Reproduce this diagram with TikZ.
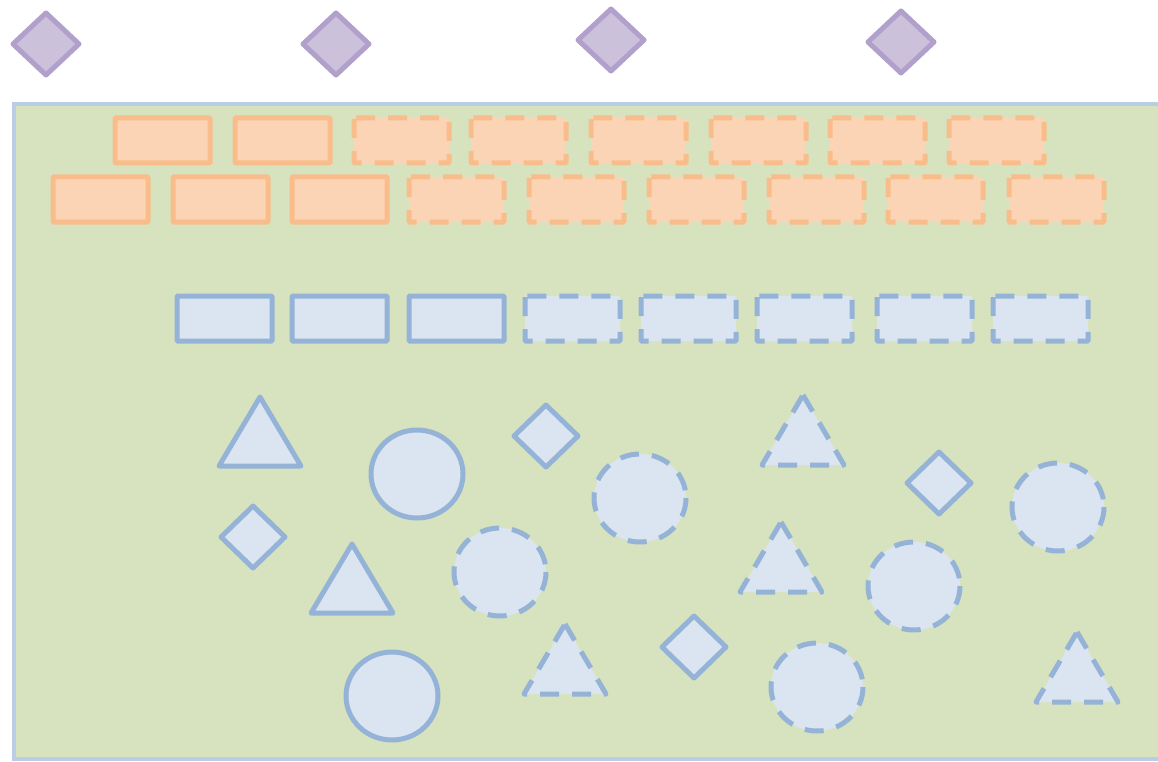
\documentclass[tikz,border=0pt]{standalone}
\definecolor{pfill}{HTML}{CBC1DA}
\definecolor{pline}{HTML}{B1A0CB}
\definecolor{ofill}{HTML}{FBD4B5}
\definecolor{oline}{HTML}{F9BD8B}
\definecolor{bfill}{HTML}{DBE5F1}
\definecolor{bline}{HTML}{95B3D7}
\definecolor{gfill}{HTML}{D7E3BF}
\definecolor{gline}{HTML}{B9CDE5}
\tikzset{
  pdia/.style={fill=pfill,draw=pline,line width=5pt,line join=round},
  obox/.style={fill=ofill,draw=oline,line width=5pt,rounded corners=1pt},
  bbox/.style={fill=bfill,draw=bline,line width=5pt,rounded corners=1pt},
  dsh/.style={dash pattern=on 19pt off 13pt},
}
\begin{document}
\begin{tikzpicture}[x=1pt,y=-1pt]
\useasboundingbox (0,0) rectangle (1158,762);
% purple diamonds
\foreach \cx/\cy in {46/44,336/44,611/40,901/42}{
  \draw[pdia] (\cx-33,\cy) -- (\cx,\cy-31) -- (\cx+33,\cy) -- (\cx,\cy+31) -- cycle;
}
% container
\draw[fill=gfill,draw=gline,line width=4.5pt] (1170,104) -- (14,104) -- (14,759) -- (1170,759);
% orange row 1
\foreach \x in {115,235}{\draw[obox] (\x,118) rectangle ++(95,45);}
\foreach \x in {354,471,591,711,830,949}{\draw[obox,dsh] (\x,118) rectangle ++(95,45);}
% orange row 2
\foreach \x in {53,173,292}{\draw[obox] (\x,177) rectangle ++(95,45);}
\foreach \x in {409,529,649,769,888,1009}{\draw[obox,dsh] (\x,177) rectangle ++(95,45);}
% blue row
\foreach \x in {177,292,409}{\draw[bbox] (\x,296) rectangle ++(95,45);}
\foreach \x in {525,641,757,877,993}{\draw[bbox,dsh] (\x,296) rectangle ++(95,45);}
% solid triangles
\foreach \ax/\ay in {260/397,352/544}{
  \draw[bbox,rounded corners=0pt,line join=round] (\ax,\ay) -- (\ax+41,\ay+69) -- (\ax-41,\ay+69) -- cycle;}
% dashed triangles
\foreach \ax/\ay in {803/395,781/522,565/624,1077/632}{
  \draw[bbox,dsh,rounded corners=0pt,line join=round] (\ax,\ay) -- (\ax+41,\ay+70) -- (\ax-41,\ay+70) -- cycle;}
% diamonds
\foreach \cx/\cy in {546/436,939/483,253/537,694/647}{
  \draw[bbox,rounded corners=0pt,line join=round] (\cx-32,\cy) -- (\cx,\cy-31) -- (\cx+32,\cy) -- (\cx,\cy+31) -- cycle;}
% solid circles
\foreach \cx/\cy in {417/474,392/696}{
  \draw[bbox] (\cx,\cy) ellipse [x radius=46,y radius=44];}
% dashed circles
\foreach \cx/\cy in {640/498,1058/507,500/572,914/586,817/687}{
  \draw[bbox,dsh] (\cx,\cy) ellipse [x radius=46,y radius=44];}
\end{tikzpicture}
\end{document}
